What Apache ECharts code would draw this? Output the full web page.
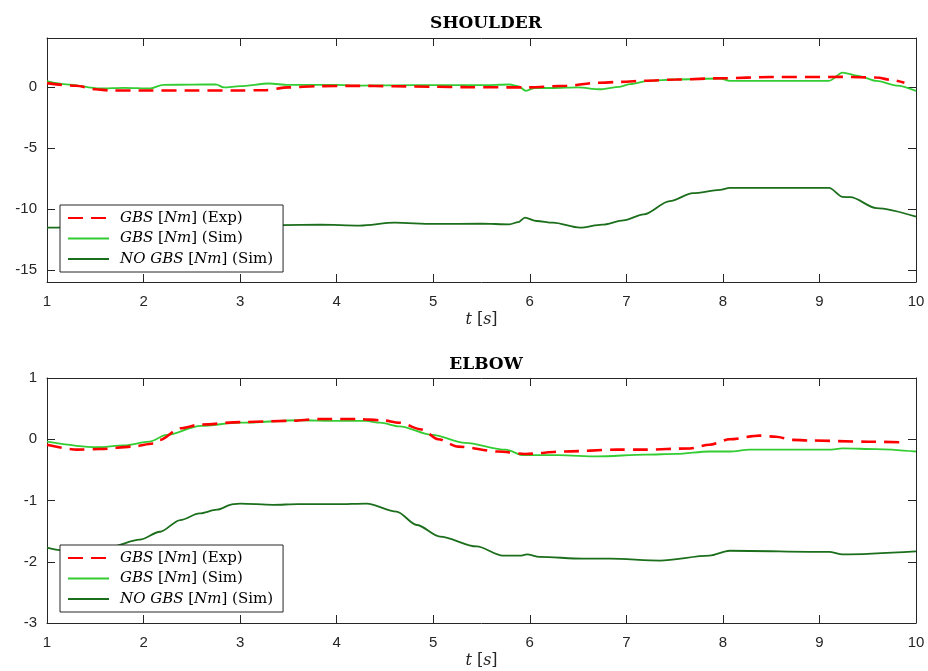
<!DOCTYPE html>
<html><head><meta charset="utf-8">
<script src="https://cdn.jsdelivr.net/npm/echarts@6/dist/echarts.min.js"></script>
<style>html,body{margin:0;padding:0;background:#fff}#c{width:928px;height:671px}</style>
</head><body><div id="c"></div>
<script>
// ---- data ----
const xTicks = [1,2,3,4,5,6,7,8,9,10];
const shoulderYTicks = [-15,-10,-5,0];
const elbowYTicks = [-3,-2,-1,0,1];
const seriesNames = ['GBS [Nm] (Exp)','GBS [Nm] (Sim)','NO GBS [Nm] (Sim)'];

const shoulderExpT = [1.0,1.3,1.5,1.65,2.0,2.5,3.0,3.25,3.5,3.8,4.2,4.6,5.0,5.34,5.95,6.38,6.7,6.95,7.2,7.52,8.0,8.5,9.24,9.59,9.76,9.88];
const shoulderExpV = [0.3,0.08,-0.2,-0.3,-0.3,-0.3,-0.3,-0.28,-0.05,0.05,0.08,0.05,0.0,-0.03,-0.05,0.08,0.33,0.4,0.5,0.6,0.7,0.8,0.81,0.76,0.54,0.33];

const shoulderSimT = [1.0,1.2,1.55,1.8,2.07,2.2,2.5,2.75,2.83,3.0,3.3,3.5,4.0,4.24,4.6,5.0,5.5,5.79,5.88,5.96,6.05,6.24,6.5,6.72,6.93,7.04,7.24,7.5,7.97,8.07,8.5,9.1,9.24,9.4,9.59,9.8,10.0];
const shoulderSimV = [0.46,0.2,-0.14,-0.08,-0.14,0.16,0.18,0.2,-0.05,0.05,0.27,0.15,0.15,0.1,0.12,0.14,0.14,0.19,0.05,-0.33,-0.1,-0.1,-0.05,-0.2,0.0,0.22,0.5,0.6,0.68,0.49,0.49,0.49,1.17,0.9,0.49,0.1,-0.33];

const shoulderNoT = [1.0,1.5,2.0,2.5,3.0,3.44,3.83,4.24,4.6,5.0,5.5,5.79,5.88,5.95,6.07,6.24,6.52,6.75,6.97,7.18,7.45,7.69,7.97,8.07,9.1,9.24,9.32,9.59,10.0];
const shoulderNoV = [-11.55,-11.5,-11.45,-11.4,-11.35,-11.33,-11.3,-11.38,-11.14,-11.24,-11.22,-11.27,-11.1,-10.73,-11.0,-11.14,-11.55,-11.3,-10.95,-10.46,-9.37,-8.72,-8.45,-8.29,-8.29,-9.02,-9.05,-9.94,-10.65];

const elbowExpT = [1.0,1.31,1.55,1.89,2.1,2.17,2.38,2.59,3.0,3.5,3.83,4.2,4.47,4.65,4.88,5.05,5.26,5.67,5.95,6.36,6.9,7.18,7.66,7.86,8.07,8.38,8.55,8.72,8.89,9.5,9.89];
const elbowExpV = [-0.09,-0.17,-0.16,-0.12,-0.07,-0.01,0.18,0.24,0.28,0.3,0.33,0.33,0.31,0.27,0.16,0.0,-0.12,-0.2,-0.24,-0.2,-0.17,-0.17,-0.15,-0.09,0.0,0.06,0.04,-0.01,-0.02,-0.04,-0.05];

const elbowSimT = [1.0,1.51,1.8,2.06,2.24,2.59,3.0,3.62,4.0,4.3,4.45,4.65,4.99,5.33,5.75,5.93,6.3,6.7,7.2,7.52,7.86,8.07,8.28,9.1,9.24,9.59,10.0];
const elbowSimV = [-0.04,-0.13,-0.1,-0.04,0.07,0.22,0.27,0.31,0.3,0.3,0.27,0.21,0.07,-0.06,-0.17,-0.26,-0.26,-0.28,-0.25,-0.24,-0.2,-0.2,-0.17,-0.17,-0.15,-0.16,-0.2];

const elbowNoT = [1.0,1.13,1.5,1.65,1.96,2.17,2.38,2.58,2.76,2.93,3.0,3.34,3.6,4.0,4.31,4.62,4.83,5.07,5.45,5.72,5.9,5.97,6.1,6.55,6.83,7.35,7.86,8.07,9.1,9.24,10.0];
const elbowNoV = [-1.77,-1.81,-1.82,-1.76,-1.64,-1.51,-1.32,-1.21,-1.15,-1.06,-1.05,-1.07,-1.06,-1.06,-1.05,-1.18,-1.4,-1.59,-1.75,-1.9,-1.9,-1.88,-1.92,-1.95,-1.95,-1.98,-1.9,-1.82,-1.84,-1.88,-1.83];

// ---- build ----
const zip = (t, v) => t.map((x, i) => [x, v[i]]);
const AX = '#262626';
const SANS = 'Liberation Sans';
const SERIF = 'DejaVu Serif';
const colors = ['#ff0000', '#33cc33', '#1b6e1b'];

function grids() {
  return [
    {left: 47, top: 38, width: 869, height: 244, outerBoundsMode: 'none'},
    {left: 47, top: 378, width: 869, height: 245, outerBoundsMode: 'none'}
  ];
}
function xAxes(gi) {
  const base = {type: 'value', gridIndex: gi, min: 1, max: 10, interval: 1,
    axisLine: {onZero: false, lineStyle: {color: AX, width: 1}},
    axisTick: {inside: true, length: 8, lineStyle: {color: AX}},
    splitLine: {show: false}};
  return [
    Object.assign({}, base, {position: 'bottom',
      axisLabel: {color: AX, fontFamily: SANS, fontSize: 15, margin: 12, customValues: xTicks},
      name: '{i|t} [{i|s}]', nameLocation: 'middle', nameGap: 30,
      nameTextStyle: {fontFamily: SERIF, fontSize: 16, color: AX,
        rich: {i: {fontStyle: 'italic', fontFamily: SERIF, fontSize: 16, color: AX}}}}),
    Object.assign({}, base, {position: 'top', axisLabel: {show: false}})
  ];
}
function yAxes(gi, min, max, ticks) {
  const base = {type: 'value', gridIndex: gi, min: min, max: max,
    axisLine: {show: true, onZero: false, lineStyle: {color: AX, width: 1}},
    axisTick: {show: true, inside: true, length: 8, lineStyle: {color: AX}, customValues: ticks},
    splitLine: {show: false}};
  return [
    Object.assign({}, base, {position: 'left',
      axisLabel: {color: AX, fontFamily: SANS, fontSize: 15, margin: 10, customValues: ticks}}),
    Object.assign({}, base, {position: 'right', axisLabel: {show: false, customValues: ticks}})
  ];
}
function mkSeries(name, data, ci, xi, yi) {
  const dashed = ci === 0;
  return {type: 'line', name: name, data: data, xAxisIndex: xi, yAxisIndex: yi,
    symbol: 'none', smooth: 0.3, smoothMonotone: 'x', silent: true, animation: false,
    lineStyle: {color: colors[ci], width: dashed ? 2.6 : 1.8, type: dashed ? [15, 8] : 'solid'},
    itemStyle: {color: colors[ci]}, z: dashed ? 3 : 2};
}
const richLeg = {
  i: {fontStyle: 'italic', fontFamily: SERIF, fontSize: 15, color: '#000'},
  n: {fontFamily: SERIF, fontSize: 15, color: '#000'}
};
function legendFmt(name) {
  if (name === seriesNames[0]) return '{i|GBS} {n|[}{i|Nm}{n|] (Exp)}';
  if (name === seriesNames[1]) return '{i|GBS} {n|[}{i|Nm}{n|] (Sim)}';
  return '{i|NO GBS} {n|[}{i|Nm}{n|] (Sim)}';
}
function mkLegend(top) {
  return {left: 60, top: top, orient: 'vertical', data: seriesNames,
    backgroundColor: '#fff', borderColor: AX, borderWidth: 1,
    padding: [4, 10, 4, 7], itemWidth: 41, itemHeight: 14, itemGap: 2.5,
    selectedMode: false, formatter: legendFmt,
    itemStyle: {opacity: 0},
    textStyle: {fontFamily: SERIF, fontSize: 15, color: '#000', lineHeight: 18, padding: [0, 0, 0, 6], rich: richLeg}};
}

const option = {
  backgroundColor: '#fff',
  animation: false,
  title: [
    {text: 'SHOULDER', left: 481, top: 10, textAlign: 'center',
      textStyle: {fontFamily: SERIF, fontWeight: 'bold', fontSize: 17, color: '#000'}},
    {text: 'ELBOW', left: 481, top: 351, textAlign: 'center',
      textStyle: {fontFamily: SERIF, fontWeight: 'bold', fontSize: 17, color: '#000'}}
  ],
  legend: [mkLegend(205), mkLegend(545)],
  grid: grids(),
  xAxis: xAxes(0).concat(xAxes(1)),
  yAxis: yAxes(0, -16, 4, shoulderYTicks).concat(yAxes(1, -3, 1, elbowYTicks)),
  series: [
    mkSeries(seriesNames[2], zip(shoulderNoT, shoulderNoV), 2, 0, 0),
    mkSeries(seriesNames[1], zip(shoulderSimT, shoulderSimV), 1, 0, 0),
    mkSeries(seriesNames[0], zip(shoulderExpT, shoulderExpV), 0, 0, 0),
    mkSeries(seriesNames[2], zip(elbowNoT, elbowNoV), 2, 2, 2),
    mkSeries(seriesNames[1], zip(elbowSimT, elbowSimV), 1, 2, 2),
    mkSeries(seriesNames[0], zip(elbowExpT, elbowExpV), 0, 2, 2)
  ]
};
const chart = echarts.init(document.getElementById('c'), null, {renderer: 'canvas'});
chart.setOption(option);
</script></body></html>
